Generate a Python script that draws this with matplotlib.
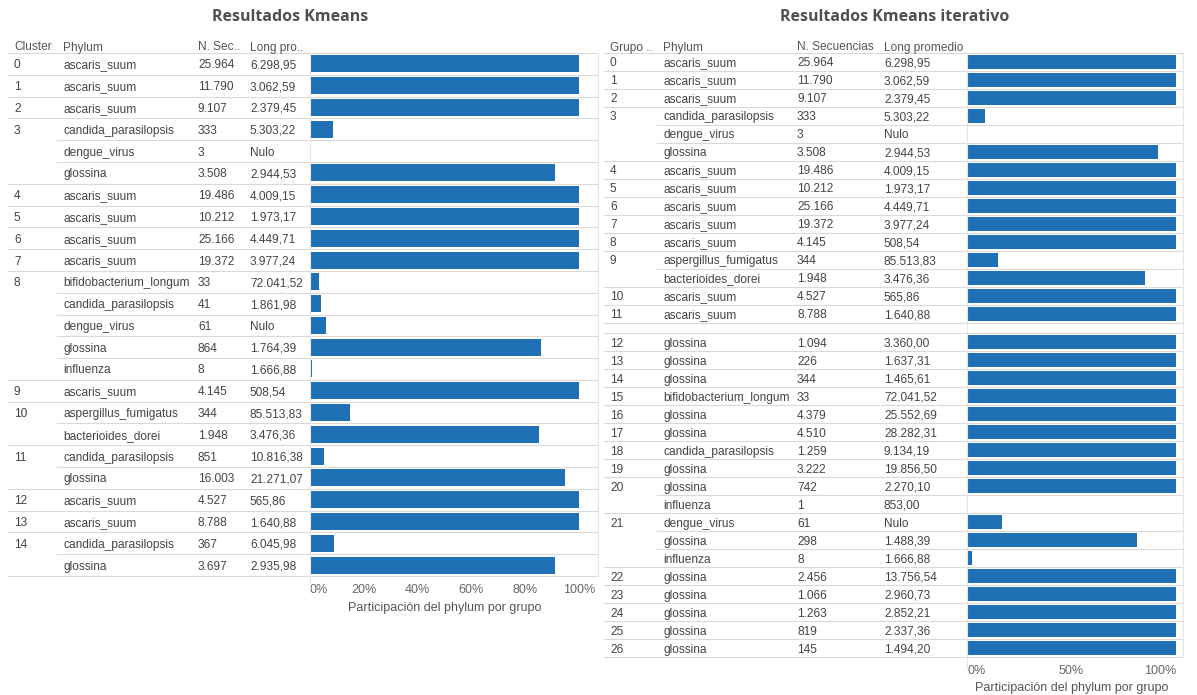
import matplotlib.pyplot as plt
from matplotlib.lines import Line2D
from matplotlib.transforms import blended_transform_factory

# ---- data: left table (Kmeans) ----
cluster_left = [0, 1, 2, 3, 3, 3, 4, 5, 6, 7, 8, 8, 8, 8, 8, 9, 10, 10, 11, 11, 12, 13, 14, 14]
phylum_left = ['ascaris_suum', 'ascaris_suum', 'ascaris_suum', 'candida_parasilopsis',
               'dengue_virus', 'glossina', 'ascaris_suum', 'ascaris_suum', 'ascaris_suum',
               'ascaris_suum', 'bifidobacterium_longum', 'candida_parasilopsis', 'dengue_virus',
               'glossina', 'influenza', 'ascaris_suum', 'aspergillus_fumigatus',
               'bacterioides_dorei', 'candida_parasilopsis', 'glossina', 'ascaris_suum',
               'ascaris_suum', 'candida_parasilopsis', 'glossina']
nsec_left = [25964, 11790, 9107, 333, 3, 3508, 19486, 10212, 25166, 19372, 33, 41, 61, 864, 8,
             4145, 344, 1948, 851, 16003, 4527, 8788, 367, 3697]
long_left = [6298.95, 3062.59, 2379.45, 5303.22, None, 2944.53, 4009.15, 1973.17, 4449.71,
             3977.24, 72041.52, 1861.98, None, 1764.39, 1666.88, 508.54, 85513.83, 3476.36,
             10816.38, 21271.07, 565.86, 1640.88, 6045.98, 2935.98]

# ---- data: right table (Kmeans iterativo) ----
grupo_right = [0, 1, 2, 3, 3, 3, 4, 5, 6, 7, 8, 9, 9, 10, 11,
               12, 13, 14, 15, 16, 17, 18, 19, 20, 20, 21, 21, 21, 22, 23, 24, 25, 26]
phylum_right = ['ascaris_suum', 'ascaris_suum', 'ascaris_suum', 'candida_parasilopsis',
                'dengue_virus', 'glossina', 'ascaris_suum', 'ascaris_suum', 'ascaris_suum',
                'ascaris_suum', 'ascaris_suum', 'aspergillus_fumigatus', 'bacterioides_dorei',
                'ascaris_suum', 'ascaris_suum',
                'glossina', 'glossina', 'glossina', 'bifidobacterium_longum', 'glossina',
                'glossina', 'candida_parasilopsis', 'glossina', 'glossina', 'influenza',
                'dengue_virus', 'glossina', 'influenza', 'glossina', 'glossina', 'glossina',
                'glossina', 'glossina']
nsec_right = [25964, 11790, 9107, 333, 3, 3508, 19486, 10212, 25166, 19372, 4145, 344, 1948,
              4527, 8788,
              1094, 226, 344, 33, 4379, 4510, 1259, 3222, 742, 1, 61, 298, 8, 2456, 1066,
              1263, 819, 145]
long_right = [6298.95, 3062.59, 2379.45, 5303.22, None, 2944.53, 4009.15, 1973.17, 4449.71,
              3977.24, 508.54, 85513.83, 3476.36, 565.86, 1640.88,
              3360.00, 1637.31, 1465.61, 72041.52, 25552.69, 28282.31, 9134.19, 19856.50,
              2270.10, 853.00, None, 1488.39, 1666.88, 13756.54, 2960.73, 2852.21, 2337.36,
              1494.20]
right_second_block = 12  # group where the second pane starts

BAR = '#1f6fb4'
GRID = '#d9d9d9'
TXT = '#444444'
HDR = '#555555'
W, H = 1197, 695


def fmt_int(v):
    return f'{v:,}'.replace(',', '.')


def fmt_float(v):
    if v is None:
        return 'Nulo'
    s = f'{v:,.2f}'
    return s.replace(',', 'X').replace('.', ',').replace('X', '.')


def shares(groups, counts):
    tot = {}
    for g, c in zip(groups, counts):
        tot[g] = tot.get(g, 0) + c
    return [c / tot[g] for g, c in zip(groups, counts)]


plt.rcParams['font.family'] = ['Liberation Sans', 'DejaVu Sans']
fig = plt.figure(figsize=(W / 100, H / 100), dpi=100)


def px(x):
    return x / W


def py(y):
    return 1 - y / H


def panel(groups, phyla, counts, longs, positions, bar_x0, bar_x1, top, bottom, ymin, ymax,
          left, right, phylum_x, cols, headers, ticks, ticklabels, title, title_x, label_y,
          last_ha):
    ax = fig.add_axes([px(bar_x0), py(bottom), px(bar_x1 - bar_x0), (bottom - top) / H])
    vals = shares(groups, counts)
    ax.barh(positions, vals, height=0.78, color=BAR)
    ax.set_xlim(0, 1)
    ax.set_ylim(ymax, ymin)
    ax.set_yticks([])
    for s in ax.spines.values():
        s.set_visible(False)
    ax.set_xticks(ticks)
    ax.set_xticklabels(ticklabels, color='#666666', fontsize=9)
    ax.tick_params(axis='x', length=0, pad=6)
    labs = ax.get_xticklabels()
    labs[0].set_ha('left')
    labs[-1].set_ha(last_ha)
    fig.text(px((bar_x0 + bar_x1) / 2), py(label_y), 'Participación del phylum por grupo',
             ha='center', va='center', fontsize=9, color='#555555')
    tr = blended_transform_factory(fig.transFigure, ax.transData)

    prev = None
    for i, (g, p, c, l, y) in enumerate(zip(groups, phyla, counts, longs, positions)):
        new = g != prev
        kw = dict(transform=tr, ha='left', va='center_baseline', fontsize=8.6, color=TXT)
        if new:
            fig.text(px(cols[0]), y, str(g), **kw)
        fig.text(px(cols[1]), y, p, **kw)
        fig.text(px(cols[2]), y, fmt_int(c), **kw)
        fig.text(px(cols[3]), y, fmt_float(l), **kw)
        # separator above the row
        x0 = left if new else phylum_x
        fig.add_artist(Line2D([px(x0), px(right)], [y - 0.5, y - 0.5], transform=tr,
                              color=GRID, lw=0.8))
        # separator below the row when a gap or the end follows
        nxt = positions[i + 1] if i + 1 < len(positions) else None
        if nxt is None or nxt - y > 1.01:
            fig.add_artist(Line2D([px(left), px(right)], [y + 0.5, y + 0.5], transform=tr,
                                  color=GRID, lw=0.8))
        prev = g

    # 0% axis line and right border
    fig.add_artist(Line2D([px(bar_x0), px(bar_x0)], [py(top), py(label_y - 20)],
                          color='#e6e6e6', lw=0.8))
    fig.add_artist(Line2D([px(right), px(right)], [py(top), py(bottom)],
                          color='#e6e6e6', lw=0.8))

    for x, h in zip(cols, headers):
        fig.text(px(x), py(46), h, ha='left', va='center_baseline', fontsize=8.6, color=HDR)
    fig.text(px(title_x), py(17), title, ha='center', va='center', fontsize=11.5,
             fontweight='bold', color='#505050', family=['Open Sans', 'DejaVu Sans'])
    return ax


# left panel positions
pos_left = list(range(len(cluster_left)))
panel(cluster_left, phylum_left, nsec_left, long_left, pos_left,
      310, 579, 53, 576, -0.5, len(pos_left) - 0.5,
      8, 598, 57, [14, 63, 198, 250], ['Cluster', 'Phylum', 'N. Sec..', 'Long pro..'],
      [0, 0.2, 0.4, 0.6, 0.8, 1.0], ['0%', '20%', '40%', '60%', '80%', '100%'],
      'Resultados Kmeans', 290, 608, 'center')

# right panel positions, with a gap before the second pane
pos_right = []
gap = 0
for i, g in enumerate(grupo_right):
    if g == right_second_block and (i == 0 or grupo_right[i - 1] != g):
        gap = 0.6
    pos_right.append(i + gap)
panel(grupo_right, phylum_right, nsec_right, long_right, pos_right,
      967, 1176, 53, 657, -0.5, pos_right[-1] + 0.5,
      604, 1183, 657, [610, 663, 797, 884],
      ['Grupo ..', 'Phylum', 'N. Secuencias', 'Long promedio'],
      [0, 0.5, 1.0], ['0%', '50%', '100%'],
      'Resultados Kmeans iterativo', 895, 688, 'right')

fig.savefig('out.png', dpi=100)
